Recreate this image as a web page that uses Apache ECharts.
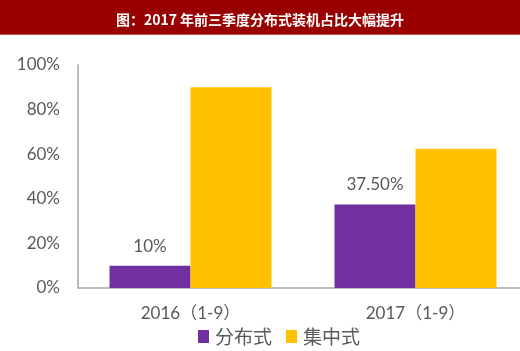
<!DOCTYPE html>
<html>
<head>
<meta charset="utf-8">
<script src="https://cdn.jsdelivr.net/npm/echarts@6/dist/echarts.min.js"></script>
<style>
  html, body { margin: 0; padding: 0; background: #fff; }
  #chart { width: 520px; height: 351px; }
</style>
</head>
<body>
<div id="chart"></div>
<script>
const categories = ['2016（1-9）', '2017（1-9）'];
const distributed = [10, 37.5];
const centralized = [90, 62.5];
const distributedLabels = ['10%', '37.50%'];
const yTicks = [0, 20, 40, 60, 80, 100];

const chart = echarts.init(document.getElementById('chart'));
const font = '"Noto Sans CJK SC", "Noto Sans", sans-serif';
const numFont = 'Lato, "Noto Sans CJK SC", sans-serif';

chart.setOption({
  animation: false,
  graphic: [
    { type: 'rect', left: 0, top: 0, shape: { width: 520, height: 34 }, style: { fill: '#990000' } },
    { type: 'rect', left: 0, top: 34, shape: { width: 520, height: 1 }, style: { fill: '#c06060' } }
  ],
  title: {
    text: '图：2017 年前三季度分布式装机占比大幅提升',
    left: 'center',
    top: 8,
    textStyle: { color: '#fff', fontSize: 14, fontWeight: 'bold', fontFamily: font }
  },
  legend: {
    bottom: 0,
    left: 193,
    itemWidth: 11,
    itemHeight: 13,
    itemGap: 14,
    icon: 'rect',
    textStyle: { color: '#595959', fontSize: 19, fontFamily: font, padding: [0, 0, 0, 1] },
    data: ['分布式', '集中式']
  },
  grid: { left: 78, right: -8, top: 65, bottom: 63, outerBoundsMode: 'none', containLabel: false },
  xAxis: {
    type: 'category',
    data: categories,
    axisLine: { lineStyle: { color: '#a6a6a6', width: 1.5 } },
    axisTick: { show: false },
    axisLabel: { color: '#595959', fontSize: 17, margin: 17, fontFamily: numFont }
  },
  yAxis: {
    type: 'value',
    min: yTicks[0],
    max: yTicks[yTicks.length - 1],
    interval: 20,
    splitLine: { show: false },
    axisLine: { show: true, lineStyle: { color: '#a6a6a6', width: 1.5 } },
    axisTick: { show: false },
    axisLabel: { color: '#595959', fontSize: 17, margin: 18, formatter: '{value}%', fontFamily: numFont }
  },
  series: [
    {
      name: '分布式',
      type: 'bar',
      data: distributed,
      barGap: '0%',
      barCategoryGap: '28%',
      itemStyle: { color: '#7030A0' },
      label: {
        show: true,
        position: 'top',
        distance: 11,
        color: '#595959',
        fontSize: 17,
        fontFamily: numFont,
        formatter: p => distributedLabels[p.dataIndex]
      }
    },
    {
      name: '集中式',
      type: 'bar',
      data: centralized,
      barGap: '0%',
      barCategoryGap: '28%',
      itemStyle: { color: '#FFC000' }
    }
  ]
});
</script>
</body>
</html>
